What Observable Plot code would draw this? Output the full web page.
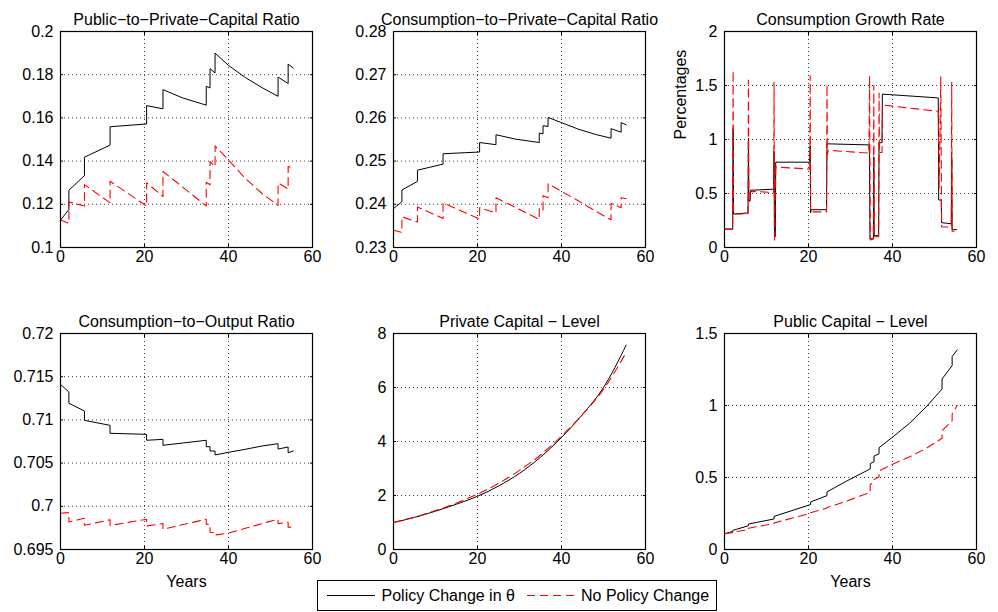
<!DOCTYPE html>
<html>
<head>
<meta charset="utf-8">
<script src="https://cdn.jsdelivr.net/npm/d3@7"></script>
<script src="https://cdn.jsdelivr.net/npm/@observablehq/plot@0.6"></script>
<style>
  html, body { margin: 0; padding: 0; background: #fff; }
  #wrap { position: relative; width: 998px; height: 612px; overflow: hidden; background: #fff; }
  .cell { position: absolute; }
  #legend { position: absolute; left: 317px; top: 580px; }
</style>
</head>
<body>
<div id="wrap"></div>
<script>
const FONT = "'Liberation Sans', Arial, Helvetica, sans-serif";

// ---- shared axis ticks ----
const xTicks = [0, 20, 40, 60];
const yTicksPubPriv = [0.1, 0.12, 0.14, 0.16, 0.18, 0.2];
const yTicksConsPriv = [0.23, 0.24, 0.25, 0.26, 0.27, 0.28];
const yTicksGrowth = [0, 0.5, 1, 1.5, 2];
const yTicksConsOut = [0.695, 0.7, 0.705, 0.71, 0.715, 0.72];
const yTicksPrivLevel = [0, 2, 4, 6, 8];
const yTicksPubLevel = [0, 0.5, 1, 1.5];

// ---- years (with repeated years at policy jumps) ----
const years = [0, 2, 2, 5.7, 5.7, 11.8, 11.8, 20.5, 20.5, 24.4, 24.4, 29, 34.7, 34.7, 35.6, 35.6, 36.8, 36.8, 40, 44, 48, 51.8, 51.8, 54.2, 54.2, 55.4];

// Public-to-Private-Capital Ratio
const pubPrivPolicy   = [0.1127, 0.1176, 0.1265, 0.1333, 0.1418, 0.1474, 0.1559, 0.1572, 0.1657, 0.1642, 0.1731, 0.1693, 0.1659, 0.1746, 0.1739, 0.1828, 0.1808, 0.1900, 0.1843, 0.1787, 0.1740, 0.1700, 0.1789, 0.1759, 0.1849, 0.1831];
const pubPrivNoPolicy = [0.1127, 0.1112, 0.1211, 0.1192, 0.1291, 0.1207, 0.1307, 0.1192, 0.1300, 0.1236, 0.1352, 0.1281, 0.1192, 0.1302, 0.1290, 0.1398, 0.1375, 0.1470, 0.1405, 0.1320, 0.1250, 0.1195, 0.1299, 0.1271, 0.1375, 0.1368];

// Consumption-to-Private-Capital Ratio
const consPrivPolicy   = [0.2390, 0.2406, 0.2433, 0.2453, 0.2479, 0.2493, 0.2517, 0.2521, 0.2543, 0.2538, 0.2561, 0.2551, 0.2543, 0.2565, 0.2563, 0.2582, 0.2580, 0.2601, 0.2589, 0.2574, 0.2562, 0.2553, 0.2575, 0.2567, 0.2589, 0.2584];
const consPrivNoPolicy = [0.2340, 0.2335, 0.2371, 0.2359, 0.2394, 0.2367, 0.2403, 0.2366, 0.2392, 0.2380, 0.2415, 0.2393, 0.2365, 0.2392, 0.2387, 0.2420, 0.2415, 0.2448, 0.2430, 0.2408, 0.2385, 0.2364, 0.2402, 0.2392, 0.2415, 0.2413];

// Consumption-to-Output Ratio
const consOutPolicy   = [0.71411, 0.71323, 0.71192, 0.71103, 0.70995, 0.70937, 0.70845, 0.70833, 0.70764, 0.70775, 0.70706, 0.70732, 0.70764, 0.70690, 0.70690, 0.70640, 0.70640, 0.70594, 0.70625, 0.70660, 0.70698, 0.70725, 0.70663, 0.70686, 0.70620, 0.70640];
const consOutNoPolicy = [0.69919, 0.69927, 0.69819, 0.69861, 0.69780, 0.69845, 0.69778, 0.69850, 0.69773, 0.69800, 0.69735, 0.69786, 0.69850, 0.69792, 0.69790, 0.69700, 0.69695, 0.69668, 0.69690, 0.69745, 0.69800, 0.69850, 0.69800, 0.69815, 0.69757, 0.69760];

// Public Capital - Level
const pubLevelPolicy   = [0.109, 0.126, 0.133, 0.165, 0.177, 0.212, 0.230, 0.312, 0.330, 0.374, 0.400, 0.474, 0.560, 0.598, 0.609, 0.649, 0.665, 0.707, 0.780, 0.875, 0.990, 1.114, 1.184, 1.277, 1.340, 1.386];
const pubLevelNoPolicy = [0.109, 0.118, 0.121, 0.137, 0.148, 0.180, 0.184, 0.252, 0.255, 0.288, 0.291, 0.335, 0.398, 0.451, 0.470, 0.485, 0.505, 0.545, 0.592, 0.642, 0.702, 0.772, 0.825, 0.895, 0.940, 1.000];

// Private Capital - Level
const privYears       = [0, 5, 10, 15, 20, 25, 30, 35, 40, 45, 50, 55.4];
const privPolicy      = [1.0, 1.19, 1.42, 1.68, 1.97, 2.35, 2.82, 3.42, 4.15, 5.0, 6.0, 7.57];
const privNoPolicy    = [1.0, 1.2, 1.44, 1.72, 2.05, 2.45, 2.93, 3.5, 4.2, 5.0, 5.93, 7.3];

// Consumption Growth Rate (percent)
const growthYearsPolicy = [0, 1.95, 2.05, 2.15, 5.6, 5.7, 5.8, 6.1, 6.2, 11.7, 11.8, 11.9, 12.1, 12.2, 20.3, 20.4, 20.5, 20.6, 24.3, 24.4, 34.4, 34.5, 34.65, 35.45, 35.55, 35.65, 36.7, 36.8, 37.5, 37.6, 50.9, 51.0, 51.6, 51.7, 54.0, 54.1, 54.2, 55.3];
const growthPolicy      = [0.17, 0.17, 1.10, 0.31, 0.32, 1.01, 0.43, 0.43, 0.53, 0.54, 0.89, 0.10, 0.10, 0.79, 0.79, 0.94, 0.32, 0.35, 0.35, 0.96, 0.95, 0.87, 0.08, 0.08, 0.84, 0.11, 0.11, 0.97, 0.97, 1.42, 1.385, 0.44, 0.44, 0.23, 0.22, 0.84, 0.165, 0.165];
const growthYearsNoPolicy = [0, 1.95, 2.05, 2.15, 5.6, 5.7, 5.8, 6.1, 11.7, 11.8, 11.9, 12.2, 20.3, 20.4, 20.5, 24.3, 24.4, 24.5, 24.7, 34.4, 34.55, 34.7, 35.45, 35.55, 35.65, 36.7, 36.8, 36.9, 37.5, 37.6, 50.9, 51.1, 51.5, 51.7, 54.0, 54.1, 54.2, 55.5];
const growthNoPolicy      = [0.17, 0.17, 1.64, 0.31, 0.31, 1.55, 0.44, 0.52, 0.51, 1.53, 0.05, 0.745, 0.726, 1.59, 0.33, 0.33, 1.51, 0.86, 0.90, 0.874, 1.59, 0.07, 0.08, 1.50, 0.10, 0.10, 1.43, 0.88, 0.88, 1.32, 1.26, 0.55, 1.58, 0.19, 0.19, 1.53, 0.15, 0.15];

const seriesNames = ["Policy Change in θ", "No Policy Change"];

function table(xs, ys) { return xs.map((x, i) => ({x, y: ys[i]})); }

function panel({title, yDomain, yTicks, black, red, xLabel, yLabel, curve = "linear"}) {
  const gridStyle = {stroke: "#000", strokeOpacity: 0.75, strokeDasharray: "1,3", strokeWidth: 1};
  return Plot.plot({
    width: 332, height: 292,
    marginLeft: 60, marginRight: 20, marginTop: 31, marginBottom: 45,
    x: {domain: [0, 60], label: null},
    y: {domain: yDomain, label: null},
    style: {fontFamily: FONT, fontSize: "16px", color: "#000", background: "transparent", overflow: "visible"},
    marks: [
      Plot.gridX(xTicks, gridStyle),
      Plot.gridY(yTicks, gridStyle),
      Plot.line(black, {x: "x", y: "y", stroke: "#000", strokeWidth: 1, curve}),
      Plot.line(red, {x: "x", y: "y", stroke: "#ff0000", strokeWidth: 1.1, strokeDasharray: "8,5", curve}),
      Plot.frame({stroke: "#000", strokeWidth: 1.2}),
      Plot.axisX(xTicks, {anchor: "bottom", tickSize: -3, tickPadding: 6.5, tickFormat: d => String(d), label: null}),
      Plot.axisX(xTicks, {anchor: "top", tickSize: -3, tickFormat: () => "", label: null}),
      Plot.axisY(yTicks, {anchor: "left", tickSize: -3, tickPadding: 10, tickFormat: d => String(d), label: null}),
      Plot.axisY(yTicks, {anchor: "right", tickSize: -3, tickFormat: () => "", label: null}),
      Plot.text([title], {text: d => d, frameAnchor: "top", dy: -17.5, fontSize: 16}),
      xLabel ? Plot.text([xLabel], {text: d => d, frameAnchor: "bottom", dy: 37, fontSize: 16}) : null,
      yLabel ? Plot.text([yLabel], {text: d => d, frameAnchor: "left", rotate: -90, dx: -44, fontSize: 16}) : null
    ].filter(Boolean)
  });
}

const panels = [
  {left: 0, top: 0, title: "Public−to−Private−Capital Ratio", yDomain: [0.1, 0.2], yTicks: yTicksPubPriv,
   black: table(years, pubPrivPolicy), red: table(years, pubPrivNoPolicy)},
  {left: 333, top: 0, title: "Consumption−to−Private−Capital Ratio", yDomain: [0.23, 0.28], yTicks: yTicksConsPriv,
   black: table(years, consPrivPolicy), red: table(years, consPrivNoPolicy)},
  {left: 664, top: 0, title: "Consumption Growth Rate", yDomain: [0, 2], yTicks: yTicksGrowth, yLabel: "Percentages",
   black: table(growthYearsPolicy, growthPolicy), red: table(growthYearsNoPolicy, growthNoPolicy)},
  {left: 0, top: 302, title: "Consumption−to−Output Ratio", yDomain: [0.695, 0.72], yTicks: yTicksConsOut, xLabel: "Years",
   black: table(years, consOutPolicy), red: table(years, consOutNoPolicy)},
  {left: 333, top: 302, title: "Private Capital − Level", yDomain: [0, 8], yTicks: yTicksPrivLevel, curve: "monotone-x",
   black: table(privYears, privPolicy), red: table(privYears, privNoPolicy)},
  {left: 664, top: 302, title: "Public Capital − Level", yDomain: [0, 1.5], yTicks: yTicksPubLevel, xLabel: "Years",
   black: table(years, pubLevelPolicy), red: table(years, pubLevelNoPolicy)}
];

const wrap = document.getElementById("wrap");
for (const p of panels) {
  const div = document.createElement("div");
  div.className = "cell";
  div.style.left = p.left + "px";
  div.style.top = p.top + "px";
  div.appendChild(panel(p));
  wrap.appendChild(div);
}

// legend
const ns = "http://www.w3.org/2000/svg";
const leg = document.createElementNS(ns, "svg");
leg.setAttribute("id", "legend");
leg.setAttribute("width", 401);
leg.setAttribute("height", 32);
leg.style.fontFamily = FONT;
leg.style.fontSize = "16px";
leg.innerHTML = `
  <rect x="0.5" y="0.5" width="399" height="30" fill="#fff" stroke="#000" stroke-width="1"></rect>
  <line x1="10" x2="58" y1="15.5" y2="15.5" stroke="#000" stroke-width="1"></line>
  <text x="64.5" y="21" fill="#000">${seriesNames[0]}</text>
  <line x1="210" x2="260" y1="15.5" y2="15.5" stroke="#ff0000" stroke-width="1.1" stroke-dasharray="8,5"></line>
  <text x="264" y="21" fill="#000">${seriesNames[1]}</text>`;
wrap.appendChild(leg);
</script>
</body>
</html>
